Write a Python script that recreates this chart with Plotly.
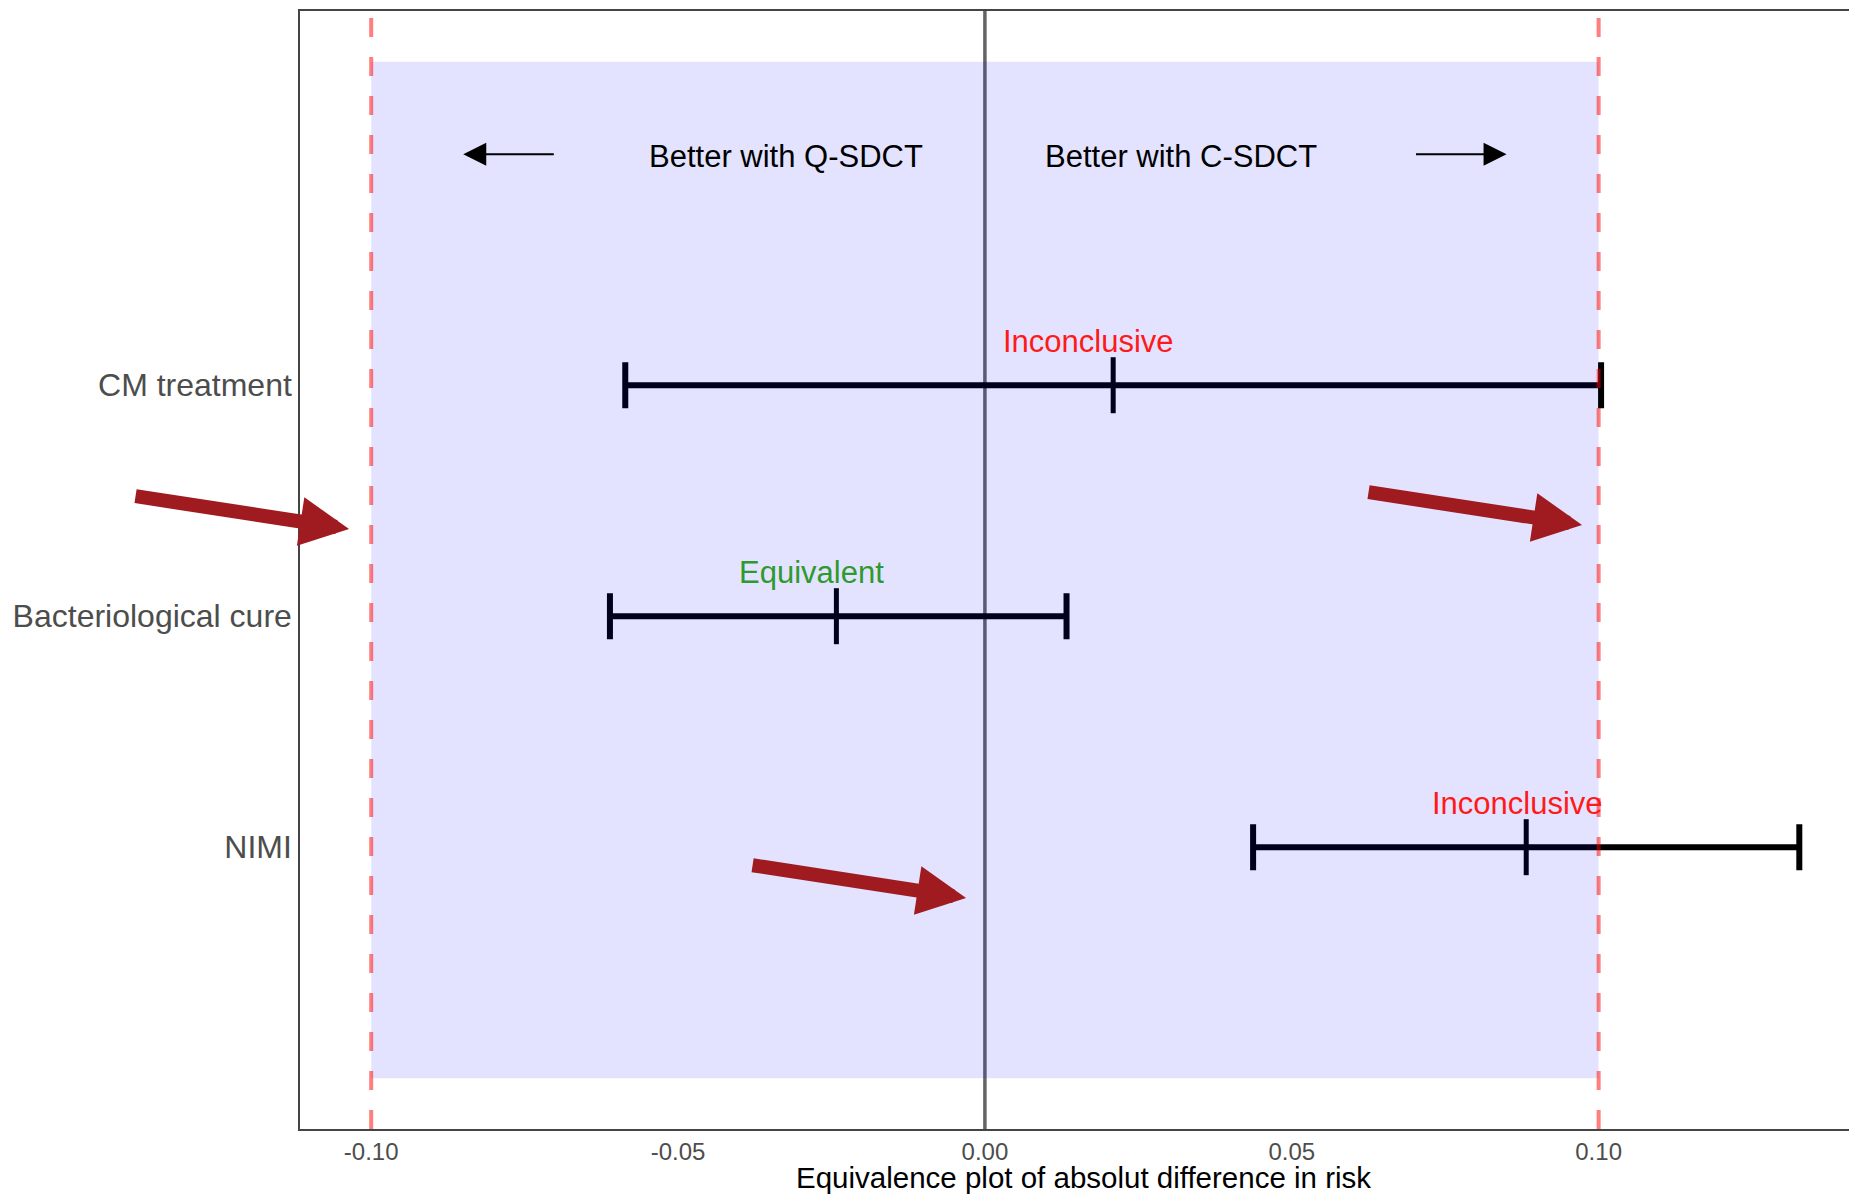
import plotly.graph_objects as go

# ---- data ----
outcomes = ["CM treatment", "Bacteriological cure", "NIMI"]
estimate = [0.0209, -0.0242, 0.0882]
lower = [-0.0586, -0.0611, 0.0437]
upper = [0.1004, 0.0133, 0.1327]
status = ["Inconclusive", "Equivalent", "Inconclusive"]
status_x = [0.0169, -0.0283, 0.0868]
margin_eq = 0.10
xticks = [-0.10, -0.05, 0.00, 0.05, 0.10]
xticklabels = ["-0.10", "-0.05", "0.00", "0.05", "0.10"]
direction_text = ["Better with Q-SDCT", "Better with C-SDCT"]
direction_x = [-0.0324, 0.0319]
direction_arrow_from = [-0.070, 0.070]
direction_arrow_to = [-0.085, 0.085]

FONT = "Arial, Liberation Sans, sans-serif"
ypos = [len(outcomes) - i for i in range(len(outcomes))]
status_col = {"Inconclusive": "#FF1A1A", "Equivalent": "#2E9A2E"}

fig = go.Figure()

fig.add_trace(go.Scatter(
    x=estimate, y=ypos, mode="markers",
    marker=dict(symbol="line-ns", size=40, color="black",
                line=dict(width=5, color="black")),
    error_x=dict(type="data", symmetric=False,
                 array=[u - e for u, e in zip(upper, estimate)],
                 arrayminus=[e - l for e, l in zip(estimate, lower)],
                 thickness=6, width=23, color="black"),
    showlegend=False, hoverinfo="skip"))

shapes = []
# zero line (below traces)
shapes.append(dict(type="line", xref="x", yref="paper", x0=0, x1=0, y0=0, y1=1,
                   line=dict(color="#646464", width=3.5), layer="below"))
# equivalence region
shapes.append(dict(type="rect", xref="x", yref="y", x0=-margin_eq, x1=margin_eq,
                   y0=0, y1=4.4, fillcolor="rgba(0,0,255,0.11)",
                   line=dict(width=0), layer="above"))
for m in (-margin_eq, margin_eq):
    shapes.append(dict(type="line", xref="x", yref="paper", x0=m, x1=m, y0=0, y1=1,
                       line=dict(color="rgba(255,0,0,0.5)", width=4, dash="19px,20px"),
                       layer="above"))

annotations = []
for sx, y, s in zip(status_x, ypos, status):
    annotations.append(dict(x=sx, y=y + 0.19, xref="x", yref="y", text=s,
                            showarrow=False, xanchor="center", yanchor="middle",
                            font=dict(family=FONT, size=31, color=status_col[s])))
for tx, t in zip(direction_x, direction_text):
    annotations.append(dict(x=tx, y=3.99, xref="x", yref="y", text=t, showarrow=False,
                            xanchor="center", yanchor="middle",
                            font=dict(family=FONT, size=31, color="black")))
for a0, a1 in zip(direction_arrow_from, direction_arrow_to):
    annotations.append(dict(x=a1, y=4.0, ax=a0, ay=4.0, xref="x", yref="y",
                            axref="x", ayref="y", text="", showarrow=True,
                            arrowhead=2, arrowsize=2.3, arrowwidth=2,
                            arrowcolor="black"))
# highlighting red arrows (pixel-positioned decorations)
red_arrows = [(0.0315, 0.5367), (0.8234, 0.5403), (0.4278, 0.2066)]
for hx, hy in red_arrows:
    annotations.append(dict(x=hx, y=hy, xref="paper", yref="paper", ax=-215, ay=-33,
                            text="", showarrow=True, arrowhead=2, arrowsize=0.7,
                            arrowwidth=14, arrowcolor="#A01B20"))
# x-axis title
annotations.append(dict(x=0.503, y=-0.0436, xref="paper", yref="paper",
                        text="Equivalence plot of absolut difference in risk",
                        showarrow=False, xanchor="center", yanchor="middle",
                        font=dict(family=FONT, size=29.5, color="black")))

fig.update_layout(
    width=1849, height=1188,
    margin=dict(l=292, r=0, t=3, b=67),
    paper_bgcolor="white", plot_bgcolor="white",
    shapes=shapes, annotations=annotations,
    xaxis=dict(range=[-0.1116, 0.1421], tickvals=xticks, ticktext=xticklabels,
               showgrid=False, zeroline=False, showline=True, mirror=True,
               linecolor="#444444", linewidth=1.5, ticks="",
               tickfont=dict(family=FONT, size=24, color="#4D4D4D")),
    yaxis=dict(range=[-0.22, 4.62], tickvals=ypos, ticktext=outcomes,
               showgrid=False, zeroline=False, showline=True, mirror=False,
               linecolor="#444444", linewidth=1.5, ticks="",
               ticklabelstandoff=0,
               tickfont=dict(family=FONT, size=32, color="#4D4D4D")),
)

fig.write_html("out.html")
